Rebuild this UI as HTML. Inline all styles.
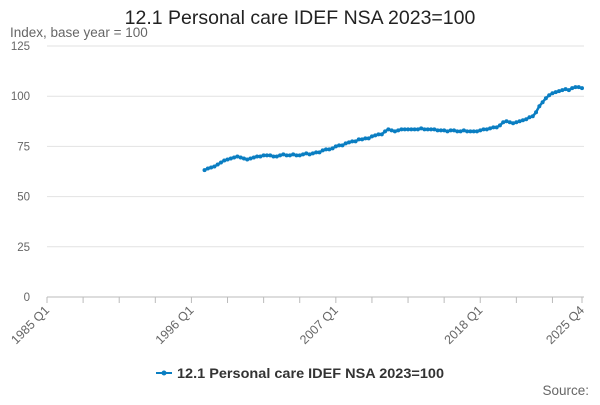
<!DOCTYPE html>
<html><head><meta charset="utf-8"><style>
body{margin:0;background:#fff;font-family:"Liberation Sans",sans-serif}
svg text{font-family:"Liberation Sans",sans-serif}
</style></head><body>
<svg id="c" width="600" height="400">
<text x="300" y="24" text-anchor="middle" font-size="19.5" fill="#222">12.1 Personal care IDEF NSA 2023=100</text>
<text x="10" y="37" font-size="13.5" fill="#666">Index, base year = 100</text>
<g id="grid"></g><g id="xax"></g><g id="series"></g>
<g>
<line x1="156" y1="373" x2="172" y2="373" stroke="#0a7ec2" stroke-width="2"/>
<circle cx="164" cy="373" r="2.5" fill="#0a7ec2"/>
<text x="177" y="378" font-size="14" font-weight="bold" fill="#333" textLength="267" lengthAdjust="spacingAndGlyphs">12.1 Personal care IDEF NSA 2023=100</text>
</g>
<text x="589" y="395" text-anchor="end" font-size="13.5" fill="#666">Source:</text>
</svg>
<script>
const startQ = 48; // 1997 Q1 index from 1985 Q1
const values = [
63.2,64,64.5,65, 66,67,68,68.5, 69,69.5,70,69.5, 69,68.5,69,69.5,
70,70,70.5,70.5, 70.5,70,70,70.5, 71,70.5,70.5,71, 70.5,70.5,71,71.5,
71,71.5,72,72, 73,73.5,73.5,74, 75,75.5,75.5,76.5, 77,77.5,77.5,78.5,
78.5,79,79,80, 80.5,81,81,82.5, 83.5,83,82.5,83, 83.5,83.5,83.5,83.5,
83.5,83.5,84,83.5, 83.5,83.5,83.5,83, 83,83,82.5,83, 83,82.5,82.5,83,
82.5,82.5,82.5,82.5, 83,83.5,83.5,84, 84.5,84.5,85.5,87, 87.5,87,86.5,87,
87.5,88,88.5,89.5, 90,92,95,97, 99,100.5,101.5,102, 102.5,103,103.5,103,
104,104.5,104.5,104];
const yTicks = [0,25,50,75,100,125];
const xLabels = ["1985 Q1","1996 Q1","2007 Q1","2018 Q1","2025 Q4"];
const xLabelQ = [0,44,88,132,163];
const NS="http://www.w3.org/2000/svg";
const x0=47,x1=582,y0=297,y1=46,nQ=163,yMax=125;
const X=q=>x0+(x1-x0)*q/nQ, Y=v=>y0-(y0-y1)*v/yMax;
function mk(t,a,p){const e=document.createElementNS(NS,t);for(const k in a)e.setAttribute(k,a[k]);p.appendChild(e);return e;}
const g=document.getElementById('grid');
yTicks.forEach(v=>{
 const l=mk('line',{x1:x0,x2:x1+2,y1:Y(v),y2:Y(v),stroke:v===0?'#bbb':'#e2e2e2'},g);
 
 
 const t=mk('text',{x:30,y:Y(v)+4,'text-anchor':'end','font-size':11.5,fill:'#666'},g);
 t.textContent=v;
 
 
});
const xa=document.getElementById('xax');
for(let q=0;q<=nQ;q+=11){const tk=mk('line',{x1:X(q),x2:X(q),y1:y0,y2:y0+6,stroke:'#bbb'},xa);
 
 }
mk('line',{x1:X(nQ),x2:X(nQ),y1:y0,y2:y0+6,stroke:'#bbb'},xa);
xLabels.forEach((s,i)=>{
 const x=X(xLabelQ[i]);
 const t=mk('text',{x:x+3,y:y0+14,'text-anchor':'end','font-size':12.5,fill:'#666',transform:`rotate(-45 ${x+3} ${y0+14})`},xa);
 t.textContent=s;
 
 
});
const sg=document.getElementById('series');
const pts=values.map((v,i)=>X(startQ+i).toFixed(1)+','+Y(v).toFixed(1)).join(' ');
const pl=mk('polyline',{points:pts,fill:'none',stroke:'#0a7ec2','stroke-width':2.5},sg);


values.forEach((v,i)=>{const c=mk('circle',{cx:X(startQ+i),cy:Y(v),r:2,fill:'#0a7ec2'},sg);
 
 });
</script>
</body></html>
